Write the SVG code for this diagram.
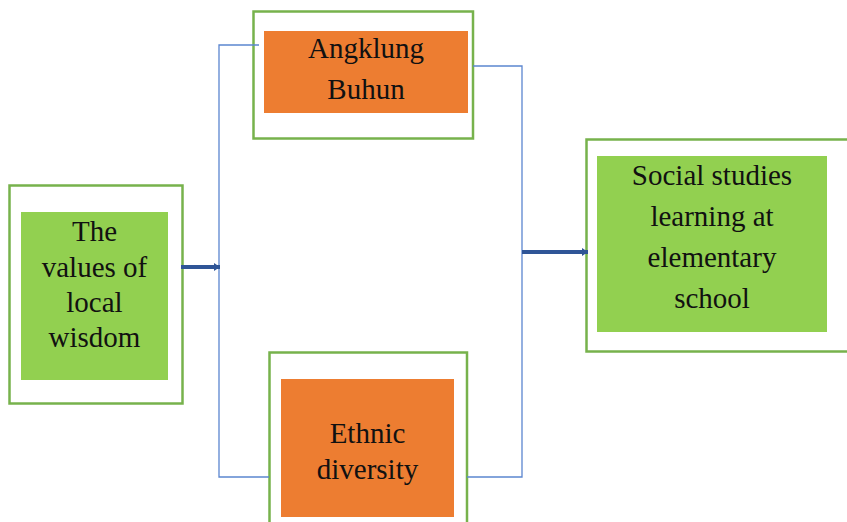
<svg xmlns="http://www.w3.org/2000/svg" width="847" height="522" viewBox="0 0 847 522">
<style>
.outer{fill:#fff;stroke:#77B24C;stroke-width:2.5}
.green{fill:#92D050}
.orange{fill:#ED7D31}
.t{font-family:"Liberation Serif","Times New Roman",serif;font-size:29px;fill:#111;text-anchor:middle}
.line{fill:none;stroke:#5B86D0;stroke-width:1.3}
.arrow{fill:none;stroke:#2F5597;stroke-width:4}
</style>
<defs>
<marker id="ah" markerWidth="6" markerHeight="8" refX="6" refY="4" orient="auto" markerUnits="userSpaceOnUse" viewBox="0 0 6 8"><path d="M0,0 L6,4 L0,8 Z" fill="#2F5597"/></marker>
</defs>
<g id="values">
<rect class="outer" x="9.5" y="185.5" width="173" height="218"/>
<rect class="green" x="21" y="212" width="147" height="168"/>
<text class="t" x="94.5" y="241">The</text>
<text class="t" x="94.5" y="277">values of</text>
<text class="t" x="94.5" y="312">local</text>
<text class="t" x="94.5" y="347">wisdom</text>
</g>
<g id="angklung">
<rect class="outer" x="253.5" y="11.5" width="219.5" height="127"/>
<rect class="orange" x="264" y="31" width="204" height="82"/>
<text class="t" x="366" y="58">Angklung</text>
<text class="t" x="366" y="99">Buhun</text>
</g>
<g id="ethnic">
<rect class="outer" x="269.5" y="352.5" width="197.5" height="175"/>
<rect class="orange" x="281" y="379" width="173" height="138"/>
<text class="t" x="367.5" y="443">Ethnic</text>
<text class="t" x="367.5" y="479">diversity</text>
</g>
<g id="social">
<rect class="outer" x="586.5" y="139.5" width="270" height="212"/>
<rect class="green" x="597" y="156" width="230" height="176"/>
<text class="t" x="712" y="185">Social studies</text>
<text class="t" x="712" y="226">learning at</text>
<text class="t" x="712" y="267">elementary</text>
<text class="t" x="712" y="308">school</text>
</g>
<g id="connectors">
<polyline class="line" points="259,45 219,45 219,477 269,477"/>
<polyline class="line" points="473,66 522,66 522,477 467,477"/>
<line class="arrow" x1="181" y1="267" x2="220" y2="267" marker-end="url(#ah)"/>
<line class="arrow" x1="522" y1="252" x2="588" y2="252" marker-end="url(#ah)"/>
</g>
</svg>
